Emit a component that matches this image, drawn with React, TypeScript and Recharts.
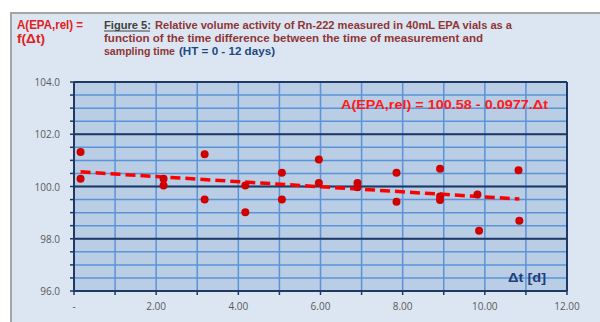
import React from "react"
import {
  ScatterChart,
  Scatter,
  XAxis,
  YAxis,
  CartesianGrid,
  ReferenceLine,
} from "recharts"

// measured points: time difference (days) vs relative activity (%)
const dtDays = [0.16, 0.16, 2.18, 2.18, 3.18, 3.18, 4.17, 4.17, 5.06, 5.06, 5.96, 5.96, 6.9, 6.9, 7.85, 7.85, 8.91, 8.91, 8.91, 9.82, 9.86, 10.82, 10.84]
const activityRel = [101.32, 100.3, 100.3, 100.04, 101.23, 99.5, 100.04, 99.01, 100.53, 99.5, 101.03, 100.13, 100.13, 99.97, 100.53, 99.42, 100.68, 99.62, 99.48, 99.69, 98.31, 100.62, 98.69]

// linear fit end points
const trendX = [0.16, 10.84]
const trendY = [100.56, 99.52]

const xTicks = [0, 1, 2, 3, 4, 5, 6, 7, 8, 9, 10, 11, 12]
const xLabels = ["-", "", "2.00", "", "4.00", "", "6.00", "", "8.00", "", "10.00", "", "12.00"]
const yTicks = [96, 96.5, 97, 97.5, 98, 98.5, 99, 99.5, 100, 100.5, 101, 101.5, 102, 102.5, 103, 103.5, 104]
const yMajor = [98, 100, 102]

const points = dtDays.map((x, i) => ({ x, y: activityRel[i] }))
const trend = trendX.map((x, i) => ({ x, y: trendY[i] }))

const NAVY = "#1f3864"
const font = "Open Sans, sans-serif"
const titleFont = "Liberation Sans, Arial, sans-serif"

const YTick = ({ x, y, payload }: any) => {
  const v = payload.value
  if (v % 2 !== 0) return null
  return (
    <text x={x - 8} y={y} dy={4} textAnchor="end" fill="#595959" fontSize={10} fontFamily={font}>
      {v.toFixed(1)}
    </text>
  )
}

const XTick = ({ x, y, payload }: any) => {
  const label = xLabels[xTicks.indexOf(payload.value)] ?? ""
  if (!label) return null
  return (
    <text x={x} y={y} dy={13} textAnchor="middle" fill="#595959" fontSize={10} fontFamily={font}>
      {label}
    </text>
  )
}

export default function App() {
  return (
    <div style={{ position: "fixed", left: 0, top: 0, width: 600, height: 322, background: "#fff", overflow: "hidden" }}>
      <div
        style={{
          position: "absolute",
          left: 10,
          top: 12,
          width: 600,
          height: 320,
          background: "#dce6f2",
          borderLeft: "2px solid #a6a6a6",
          borderTop: "2px solid #a6a6a6",
        }}
      />
      <div style={{ position: "absolute", left: 0, top: 0 }}>
        <ScatterChart width={600} height={322} margin={{ top: 82, right: 33, bottom: 1, left: 0 }}>
          <CartesianGrid
            fill="#b9cde5"
            fillOpacity={1}
            stroke="#5b93d8"
            strokeWidth={1.5}
          />
          <XAxis
            type="number"
            dataKey="x"
            domain={[0, 12]}
            ticks={xTicks}
            tick={<XTick />}
            height={30}
            axisLine={{ stroke: NAVY, strokeWidth: 2 }}
            tickLine={{ stroke: NAVY, strokeWidth: 1.5 }}
            tickSize={4}
            interval={0}
          />
          <YAxis
            type="number"
            dataKey="y"
            domain={[96, 104]}
            ticks={yTicks}
            tick={<YTick />}
            width={74}
            axisLine={{ stroke: NAVY, strokeWidth: 2 }}
            tickLine={{ stroke: NAVY, strokeWidth: 1.5 }}
            tickSize={4}
            interval={0}
          />
          {yMajor.map((v) => (
            <ReferenceLine key={v} y={v} stroke={NAVY} strokeWidth={2} />
          ))}
          <ReferenceLine y={104} stroke={NAVY} strokeWidth={2} />
          <ReferenceLine x={12} stroke={NAVY} strokeWidth={2} />
          <Scatter
            data={trend}
            line={{ stroke: "#ff0000", strokeWidth: 3.5, strokeDasharray: "10 5" }}
            shape={() => <g />}
            isAnimationActive={false}
          />
          <Scatter
            data={points}
            fill="#d00000"
            shape={(p: any) => <circle cx={p.cx} cy={p.cy} r={4} fill="#d00000" />}
            isAnimationActive={false}
          />
        </ScatterChart>
      </div>
      <svg width={600} height={322} style={{ position: "absolute", left: 0, top: 0, pointerEvents: "none" }}>
        <g fontFamily={titleFont} fontWeight="bold">
          <text x={17} y={29} fontSize={12} fill="#e02020" textLength={66} lengthAdjust="spacingAndGlyphs">A(EPA,rel) =</text>
          <text x={17} y={43} fontSize={12} fill="#e02020" textLength={28} lengthAdjust="spacingAndGlyphs">f(Δt)</text>
          <text x={104} y={29} fontSize={10.5} fill="#404040" textLength={47} lengthAdjust="spacingAndGlyphs">Figure 5:</text>
          <line x1={104} y1={31} x2={150} y2={31} stroke="#404040" strokeWidth={1} />
          <text x={155} y={29} fontSize={10.5} fill="#8f3535" textLength={357} lengthAdjust="spacingAndGlyphs">Relative volume activity of Rn-222 measured in 40mL EPA vials as a</text>
          <text x={104} y={42} fontSize={10.5} fill="#8f3535" textLength={379} lengthAdjust="spacingAndGlyphs">function of the time difference between the time of measurement and</text>
          <text x={104} y={55} fontSize={10.5} fill="#8f3535" textLength={71} lengthAdjust="spacingAndGlyphs">sampling time</text>
          <text x={179} y={55} fontSize={10.5} fill="#1f497d" textLength={96} lengthAdjust="spacingAndGlyphs">(HT = 0 - 12 days)</text>
          <text x={341} y={109} fontSize={12} fill="#ff1a1a" textLength={207} lengthAdjust="spacingAndGlyphs">A(EPA,rel) = 100.58 - 0.0977.Δt</text>
          <text x={508} y={282} fontSize={12} fill="#1f3f7a" textLength={38} lengthAdjust="spacingAndGlyphs">Δt [d]</text>
        </g>
      </svg>
    </div>
  )
}
